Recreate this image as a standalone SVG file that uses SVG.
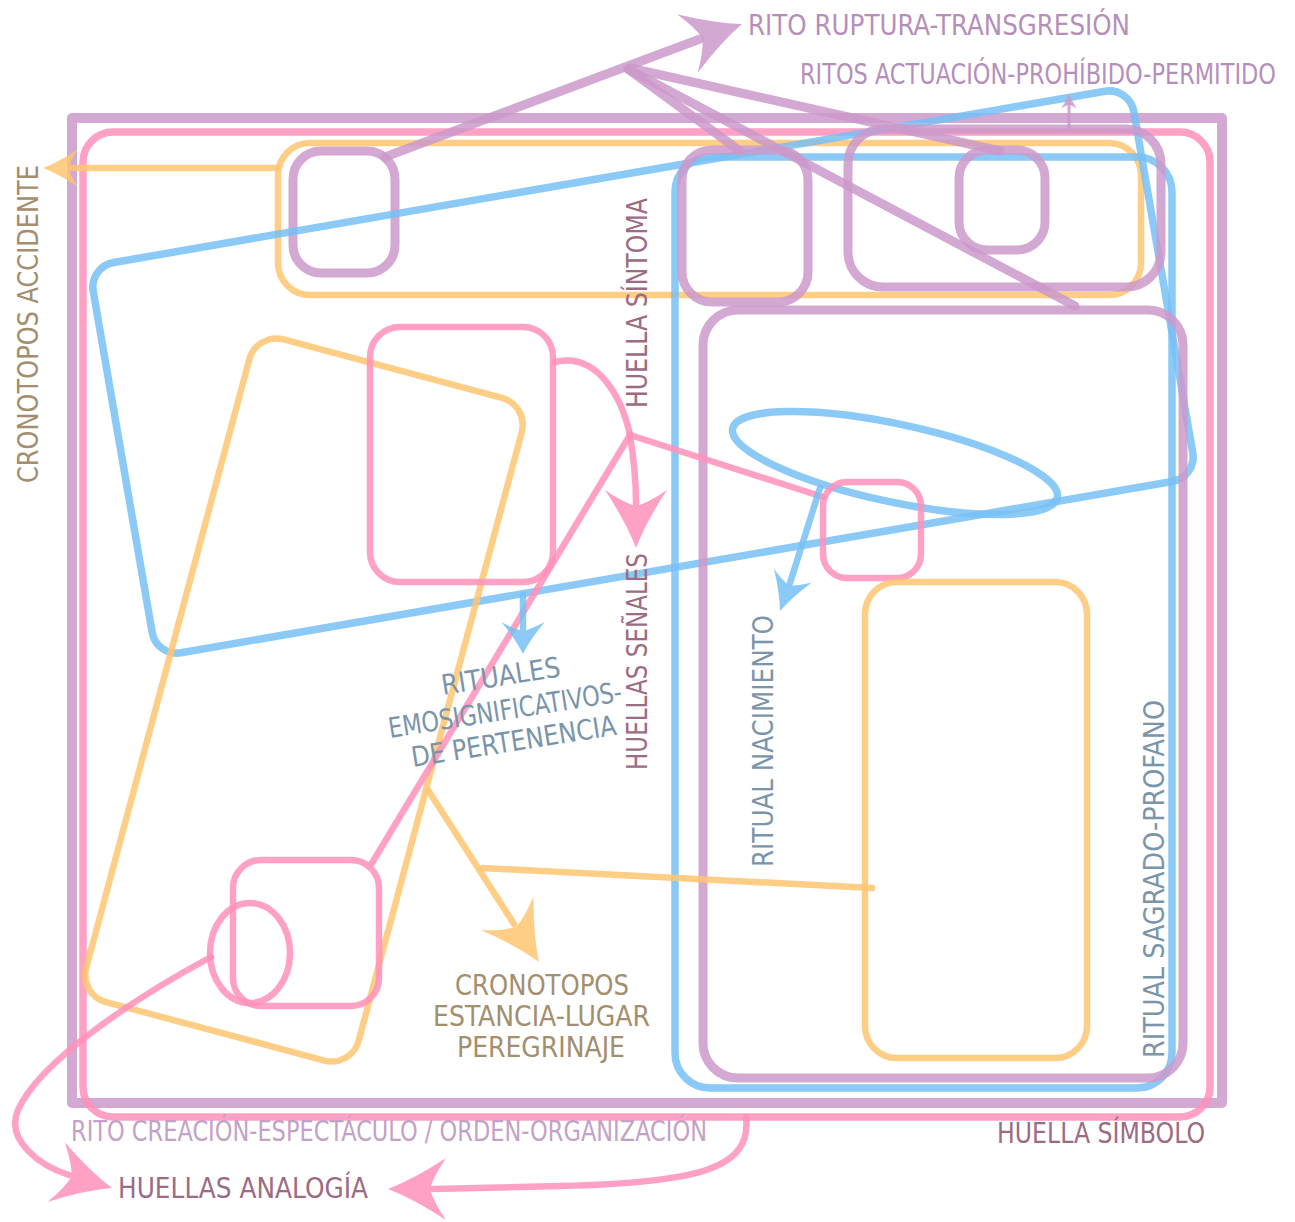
<svg xmlns="http://www.w3.org/2000/svg" xmlns:xlink="http://www.w3.org/1999/xlink" width="1295" height="1222" viewBox="0 0 1295 1222">
<style>
.sh{fill:none;stroke-linejoin:round;stroke-linecap:round;stroke-opacity:0.85}
.pu{stroke:#CB99CA}
.pk{stroke:#FF91BA}
.or{stroke:#FEC571}
.bl{stroke:#77BFF4}
.w6{stroke-width:6.5}
.w7{stroke-width:7.5}
.w8{stroke-width:9}
.ah{fill-opacity:0.85}
text{font-family:'Liberation Sans Narrow','DejaVu Sans Condensed','Liberation Sans',sans-serif;font-size:28px}
.tpu{fill:#B58FBA}
.tpl{fill:#C3A2C6}
.thu{fill:#9C6B84}
.tcr{fill:#A38E6E}
.tri{fill:#7A94AA}
</style>
<defs>
<path id="ah" d="M0,0 Q-26,-10 -58,-31 Q-45,-12 -42,0 Q-45,12 -58,31 Q-26,10 0,0Z"/>
</defs>
<rect x="0" y="0" width="1295" height="1222" fill="#FFFFFF"/>

<g id="frame-rito-creacion">
<rect class="sh pu" x="72" y="118" width="1150" height="985" stroke-width="10"/>
</g>
<g id="frame-huella-simbolo">
<rect class="sh pk w7" x="83" y="132" width="1127" height="985" rx="30"/>
</g>
<g id="cronotopos-accidente-box">
<rect class="sh or w6" x="278" y="143" width="863" height="152" rx="32"/>
</g>
<g id="rito-ruptura-box">
<rect class="sh pu w8" x="293" y="151" width="102" height="122" rx="28"/>
</g>
<g id="rituales-box">
<rect class="sh bl w7" x="-528" y="-198" width="1056" height="396" rx="25" transform="translate(643,372) rotate(-9.8)"/>
</g>
<g id="ritual-sagrado-box">
<rect class="sh bl w7" x="675" y="157" width="497" height="931" rx="35"/>
</g>
<g id="rito-box-a">
<rect class="sh pu w8" x="682" y="150" width="126" height="152" rx="30"/>
</g>
<g id="ritos-actuacion-box">
<rect class="sh pu w8" x="848" y="129" width="313" height="158" rx="35"/>
</g>
<g id="rito-box-b">
<rect class="sh pu w8" x="959" y="150" width="86" height="100" rx="28"/>
</g>
<g id="rito-sagrado-inner">
<rect class="sh pu w8" x="703" y="310" width="480" height="768" rx="35"/>
</g>
<g id="ritual-nacimiento-ellipse">
<ellipse class="sh bl w7" cx="895" cy="463" rx="166" ry="39" transform="rotate(12 895 463)"/>
</g>
<g id="huella-box-small">
<rect class="sh pk w6" x="823" y="482" width="98" height="96" rx="24"/>
</g>
<g id="cronotopos-box-right">
<rect class="sh or w6" x="865" y="582" width="222" height="476" rx="32"/>
</g>
<g id="cronotopos-estancia-box">
<rect class="sh or w6" x="-141" y="-343" width="282" height="686" rx="28" transform="translate(304,700) rotate(15)"/>
</g>
<g id="huella-senales-box">
<rect class="sh pk w6" x="370" y="327" width="183" height="255" rx="30"/>
</g>
<g id="huella-analogia-box">
<rect class="sh pk w6" x="233" y="860" width="146" height="146" rx="28"/>
<ellipse class="sh pk w6" cx="250" cy="953" rx="40" ry="50"/>
</g>

<g id="connectors">
<path class="sh pu w8" d="M385,157 L700,39"/>
<path class="sh pu w8" d="M628,69 L740,151"/>
<path class="sh pu w8" d="M628,69 L1075,306"/>
<path class="sh pu w8" d="M630,68 L1000,151"/>
<use href="#ah" class="ah" fill="#CB99CA" transform="translate(742,24) rotate(-19.6)"/>
<path class="sh pu" stroke-width="3" d="M1069,130 L1069,104"/>
<use href="#ah" class="ah" fill="#CB99CA" transform="translate(1069,94) rotate(-90) scale(0.25)"/>
<path class="sh or w6" d="M277,168 L70,168"/>
<use href="#ah" class="ah" fill="#FEC571" transform="translate(43,168) rotate(180) scale(0.6)"/>
<path class="sh pk w6" d="M555,362 C598,352 622,398 630,435 C634,460 636,485 636,503"/>
<use href="#ah" class="ah" fill="#FF91BA" transform="translate(636,548) rotate(90)"/>
<path class="sh pk w6" d="M630,435 L823,497"/>
<path class="sh pk w6" d="M630,435 L372,863"/>
<path class="sh bl w6" d="M523,595 L523,628"/>
<use href="#ah" class="ah" fill="#77BFF4" transform="translate(523,654) rotate(90) scale(0.55,0.7)"/>
<path class="sh bl w6" d="M820,488 L790,583"/>
<use href="#ah" class="ah" fill="#77BFF4" transform="translate(780,611) rotate(110) scale(0.65)"/>
<path class="sh or w6" d="M428,790 L514,924"/>
<path class="sh or w6" d="M482,868 L872,888"/>
<use href="#ah" class="ah" fill="#FEC571" transform="translate(539,962) rotate(57)"/>
<path class="sh pk w6" d="M211,957 C140,995 40,1060 18,1110 C5,1140 40,1166 69,1175"/>
<use href="#ah" class="ah" fill="#FF91BA" transform="translate(112,1188) rotate(16)"/>
<path class="sh pk w6" d="M746,1117 C752,1168 700,1183 560,1186 L433,1189"/>
<use href="#ah" class="ah" fill="#FF91BA" transform="translate(388,1189) rotate(180)"/>
</g>

<g id="labels">
<text class="tpu" x="748" y="35" textLength="382" lengthAdjust="spacingAndGlyphs">RITO RUPTURA-TRANSGRESIÓN</text>
<text class="tpu" x="800" y="84" textLength="476" lengthAdjust="spacingAndGlyphs">RITOS ACTUACIÓN-PROHÍBIDO-PERMITIDO</text>
<text class="tcr" transform="translate(38,483) rotate(-90)" textLength="318" lengthAdjust="spacingAndGlyphs">CRONOTOPOS ACCIDENTE</text>
<text class="thu" transform="translate(647,408) rotate(-90)" textLength="210" lengthAdjust="spacingAndGlyphs">HUELLA SÍNTOMA</text>
<text class="thu" transform="translate(647,770) rotate(-90)" textLength="217" lengthAdjust="spacingAndGlyphs">HUELLAS SEÑALES</text>
<text class="tri" transform="translate(443,695) rotate(-9)" textLength="120" lengthAdjust="spacingAndGlyphs">RITUALES</text>
<text class="tri" transform="translate(390,738) rotate(-9)" textLength="236" lengthAdjust="spacingAndGlyphs">EMOSIGNIFICATIVOS-</text>
<text class="tri" transform="translate(413,767) rotate(-9)" textLength="207" lengthAdjust="spacingAndGlyphs">DE PERTENENCIA</text>
<text class="tri" transform="translate(773,867) rotate(-90)" textLength="252" lengthAdjust="spacingAndGlyphs">RITUAL NACIMIENTO</text>
<text class="tri" transform="translate(1164,1058) rotate(-90)" textLength="358" lengthAdjust="spacingAndGlyphs">RITUAL SAGRADO-PROFANO</text>
<text class="tcr" x="455" y="995" textLength="174" lengthAdjust="spacingAndGlyphs">CRONOTOPOS</text>
<text class="tcr" x="433" y="1026" textLength="217" lengthAdjust="spacingAndGlyphs">ESTANCIA-LUGAR</text>
<text class="tcr" x="457" y="1057" textLength="168" lengthAdjust="spacingAndGlyphs">PEREGRINAJE</text>
<text class="tpl" x="71" y="1141" textLength="636" lengthAdjust="spacingAndGlyphs">RITO CREACIÓN-ESPECTÁCULO / ORDEN-ORGANIZACIÓN</text>
<text class="thu" x="997" y="1143" textLength="208" lengthAdjust="spacingAndGlyphs">HUELLA SÍMBOLO</text>
<text class="thu" x="118" y="1198" textLength="250" lengthAdjust="spacingAndGlyphs">HUELLAS ANALOGÍA</text>
</g>
</svg>
